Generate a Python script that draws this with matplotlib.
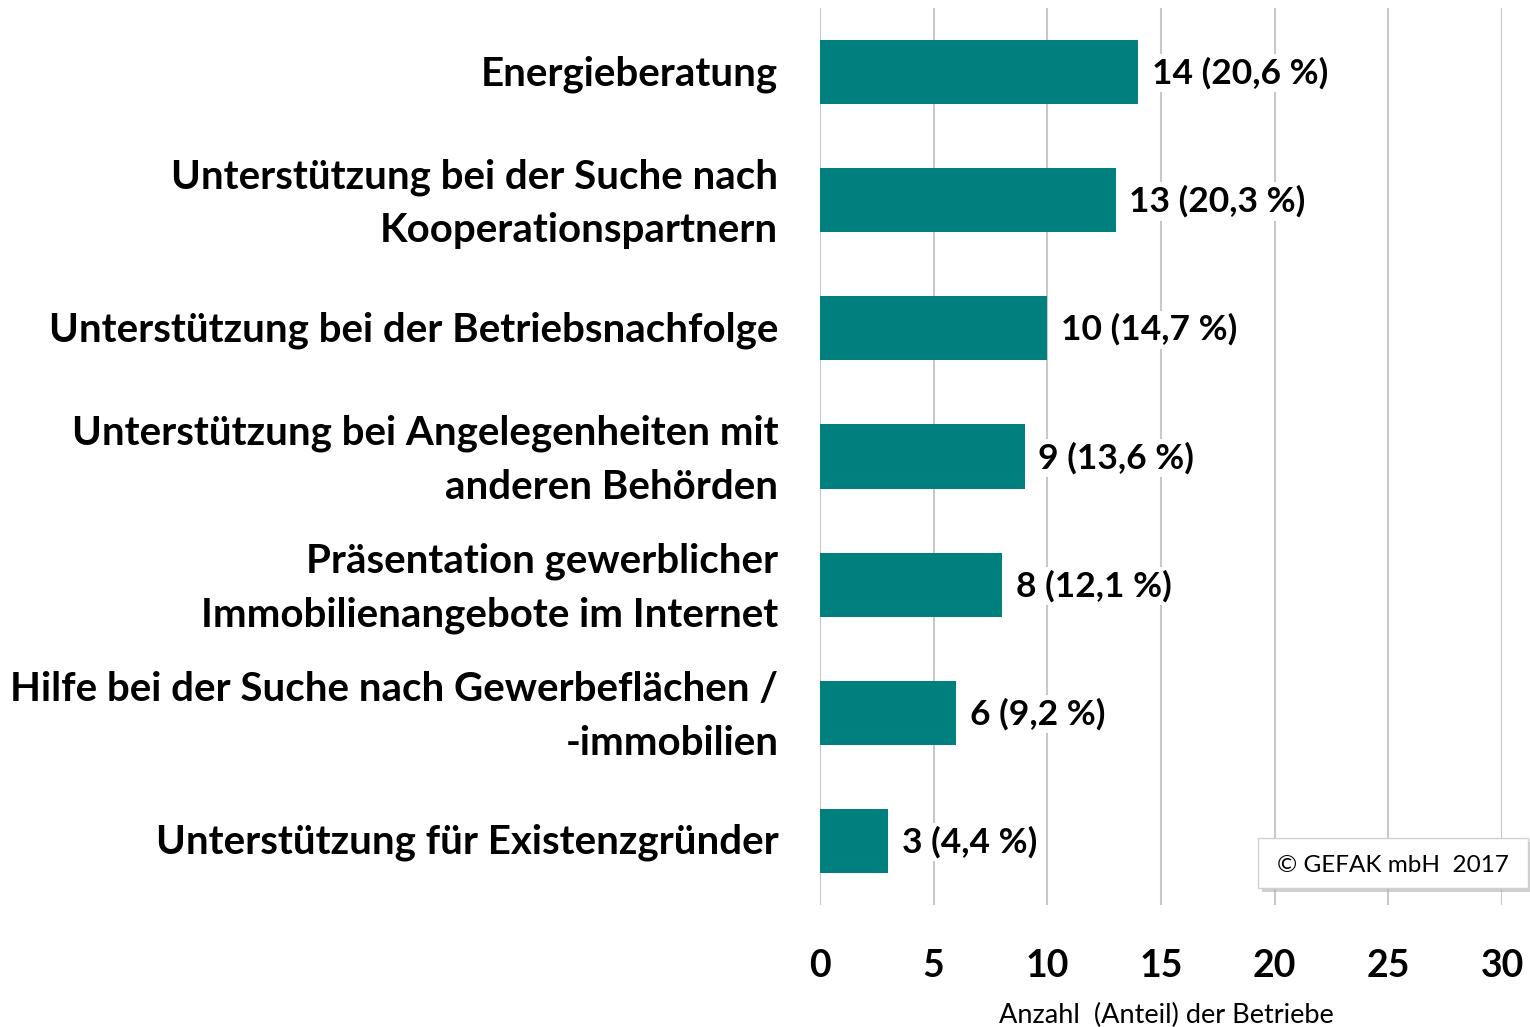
import numpy as np
import matplotlib.pyplot as plt
from matplotlib.patches import FancyBboxPatch
from matplotlib.transforms import ScaledTranslation

plt.rcParams['font.family'] = ['Lato', 'DejaVu Sans']

categories = ["Energieberatung",
              "Unterstützung bei der Suche nach\nKooperationspartnern",
              "Unterstützung bei der Betriebsnachfolge",
              "Unterstützung bei Angelegenheiten mit\nanderen Behörden",
              "Präsentation gewerblicher\nImmobilienangebote im Internet",
              "Hilfe bei der Suche nach Gewerbeflächen /\n-immobilien",
              "Unterstützung für Existenzgründer"]
counts = [14, 13, 10, 9, 8, 6, 3]
shares = ["20,6", "20,3", "14,7", "13,6", "12,1", "9,2", "4,4"]
xticks = [0, 5, 10, 15, 20, 25, 30]

fig = plt.figure(figsize=(15.3, 10.27), dpi=100)
ax = fig.add_axes([820/1530, 1-905/1027, (1502-820)/1530, 897/1027])

y = np.arange(len(categories))
ax.barh(y, counts, height=0.5, color="#007f7f", zorder=2)
ax.set_ylim(len(categories)-0.5, -0.5)
ax.set_xlim(0, 30)
ax.set_xticks(xticks)
ax.set_xticklabels([str(t) for t in xticks], fontsize=27, fontweight="bold")
ax.set_yticks(y)
ax.set_yticklabels(categories, fontsize=29, fontweight="bold", linespacing=1.55, ha="right")
ax.tick_params(axis="y", length=0, pad=30)
ax.tick_params(axis="x", length=0, pad=32)
ax.grid(axis="x", color="#c8c8c8", linewidth=1.5, zorder=0)
for s in ax.spines.values():
    s.set_visible(False)

# nudge labels up a little
for lab in ax.get_yticklabels():
    dy = 8 if "\n" in lab.get_text() else 2
    lab.set_transform(lab.get_transform() + ScaledTranslation(0, dy/100, fig.dpi_scale_trans))

for i, (c, p) in enumerate(zip(counts, shares)):
    ax.text(c + 0.6, i + 0.01, "{} ({} %)".format(c, p), va="center", ha="left",
            fontsize=25.5, fontweight="bold", zorder=3,
            bbox=dict(facecolor="white", edgecolor="none", pad=2))

fig.text(1166/1530, 1-1015/1027, "Anzahl  (Anteil) der Betriebe", ha="center",
         va="center", fontsize=19.5)

# copyright box with shadow
shadow = FancyBboxPatch((1262/1530, 1-892/1027), 270/1530, 50/1027,
                        boxstyle="square,pad=0", transform=fig.transFigure,
                        facecolor="#b0b0b0", edgecolor="none", alpha=0.6, zorder=4)
box = FancyBboxPatch((1258/1530, 1-888/1027), 270/1530, 50/1027,
                     boxstyle="square,pad=0", transform=fig.transFigure,
                     facecolor="white", edgecolor="#d0d0d0", linewidth=1, zorder=5)
fig.patches.extend([shadow, box])
fig.text(1393/1530, 1-866/1027, "© GEFAK mbH  2017", ha="center", va="center",
         fontsize=17.5, zorder=6)

fig.savefig("out.png", dpi=100)
